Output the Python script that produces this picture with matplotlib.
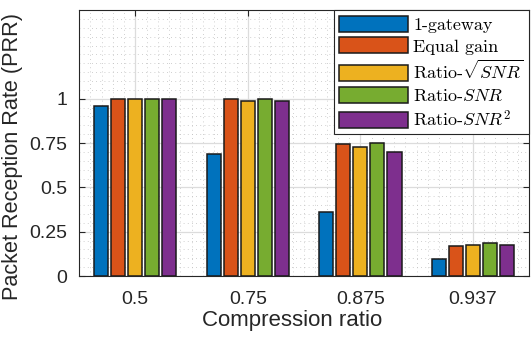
import numpy as np
import matplotlib
matplotlib.use("Agg")
import matplotlib.pyplot as plt
from matplotlib.ticker import MultipleLocator

categories = ["0.5", "0.75", "0.875", "0.937"]
series_names = [r"1-gateway", r"Equal gain", r"Ratio-$\sqrt{SNR}$", r"Ratio-$SNR$", r"Ratio-$SNR^2$"]
gateway1 = [0.96, 0.689, 0.363, 0.094]
equal_gain = [1.0, 1.0, 0.746, 0.171]
ratio_sqrt_snr = [1.0, 0.99, 0.73, 0.177]
ratio_snr = [1.0, 1.0, 0.753, 0.188]
ratio_snr2 = [1.0, 0.99, 0.702, 0.177]
yticks = [0, 0.25, 0.5, 0.75, 1]
ytick_labels = ["0", "0.25", "0.5", "0.75", "1"]

colors = ["#0072BD", "#D95319", "#EDB120", "#77AC30", "#7E2F8E"]
series = [gateway1, equal_gain, ratio_sqrt_snr, ratio_snr, ratio_snr2]

plt.rcParams['mathtext.fontset'] = 'cm'
plt.rcParams['font.family'] = ['Liberation Sans', 'DejaVu Sans']

fig = plt.figure(figsize=(5.32, 3.37), dpi=100)
ax = fig.add_axes([0.1485, 0.181, 0.846, 0.789])

x = np.arange(1, len(categories) + 1)
step = 0.152
bw = 0.125
for i, (vals, c, name) in enumerate(zip(series, colors, series_names)):
    ax.bar(x + (i - 2) * step, vals, width=bw, color=c, edgecolor="#1a1a1a",
           linewidth=1.1, label=name, zorder=3)

ax.set_xlim(0.5, 4.5)
ax.set_ylim(0, 1.5)
ax.set_xticks(x)
ax.set_xticklabels(categories)
ax.set_yticks(yticks)
ax.set_yticklabels(ytick_labels)
ax.xaxis.set_minor_locator(MultipleLocator(0.1))
ax.yaxis.set_minor_locator(MultipleLocator(0.05))

ax.grid(True, which="major", color="#dcdcdc", linewidth=0.9, linestyle="-", zorder=0)
ax.grid(True, which="minor", color="#c0c0c0", linewidth=0.6, linestyle=(0, (1, 4)), zorder=0)
ax.set_axisbelow(True)

ax.tick_params(axis="both", which="major", direction="in", length=4, width=0.8,
               color="#262626", labelsize=14, top=True, right=True, labelcolor="#262626")
ax.tick_params(axis="y", which="major", pad=8.5)
ax.tick_params(axis="x", which="major", pad=11)
ax.tick_params(axis="both", which="minor", length=0)
for s in ax.spines.values():
    s.set_color("#262626")
    s.set_linewidth(0.8)

ax.set_xlabel("Compression ratio", fontsize=16, color="#262626")
ax.set_ylabel("Packet Reception Rate (PRR)", fontsize=15.6, color="#262626")
ax.xaxis.set_label_coords(0.4744, -0.128)
ax.yaxis.set_label_coords(-0.124, 0.451)

leg = ax.legend(loc="upper right", prop={"family": "cmr10", "size": 13},
                fancybox=False, framealpha=1, edgecolor="#262626",
                handlelength=3.8, handleheight=1.0, handletextpad=0.3,
                labelspacing=0.25, borderpad=0.3, borderaxespad=0.0)
leg.get_frame().set_linewidth(0.8)

fig.savefig("out.png", dpi=100)
